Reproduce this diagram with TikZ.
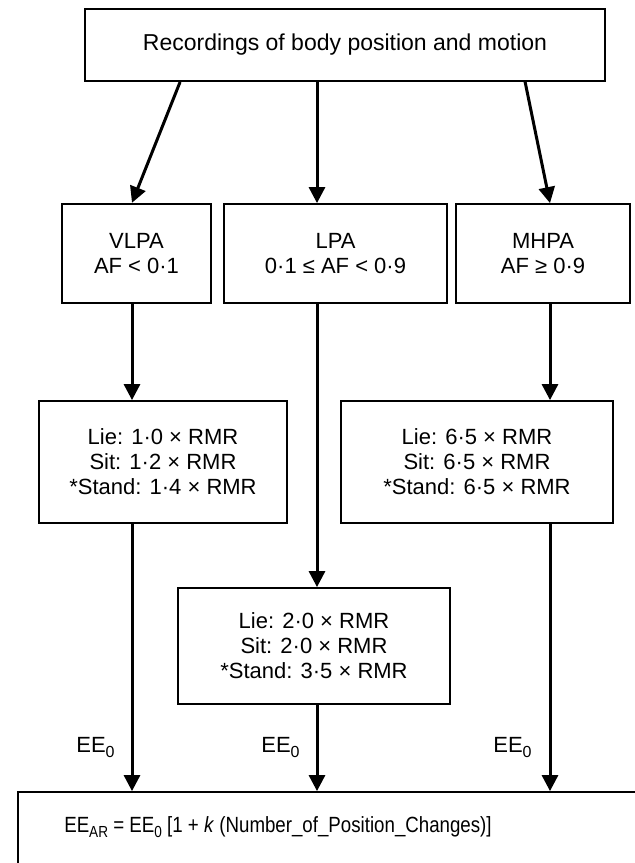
\documentclass[tikz,border=0pt]{standalone}
\usepackage{fontspec}
\usepackage{graphicx}
\setmainfont{Liberation Sans}
\usetikzlibrary{arrows.meta,calc}
\newcommand\sbs[1]{\raisebox{-0.45ex}{\fontsize{8}{8}\selectfont #1}}
\begin{document}
\begin{tikzpicture}[x=0.5pt,y=-0.5pt,
  box/.style={draw,line width=0.9pt,inner sep=0pt,align=center,font=\fontsize{11}{12.5}\selectfont},
  arr/.style={line width=1.5pt,-{Triangle[length=8pt,width=8pt]}},
  lab/.style={inner sep=0pt,font=\fontsize{11}{12}\selectfont}]
\useasboundingbox (0,0) rectangle (635,863);
\fill[white] (0,0) rectangle (635,863);
\coordinate (c1) at (132,0);
\coordinate (c2) at (317,0);
\coordinate (c3) at (550,0);
\node[box,minimum width=260pt,minimum height=36pt,font=\fontsize{11.5}{13}\selectfont] (top) at (345,45) {Recordings of body position and motion};
\node[box,line width=1.2pt,minimum width=74.5pt,minimum height=49.5pt] (vlpa) at (136.5,253.5) {VLPA\\AF < 0·1};
\node[box,minimum width=111.5pt,minimum height=49.5pt] (lpa) at (335.5,253.5) {LPA\\0·1 ≤ AF < 0·9};
\node[box,minimum width=87pt,minimum height=49.5pt] (mhpa) at (543,253.5) {MHPA\\AF ≥ 0·9};
\node[box,minimum width=124pt,minimum height=61pt] (vlparates) at (163,462) {Lie: 1·0 × RMR\\Sit: 1·2 × RMR\\*Stand: 1·4 × RMR};
\node[box,minimum width=136pt,minimum height=61pt] (mhparates) at (477,462) {Lie: 6·5 × RMR\\Sit: 6·5 × RMR\\*Stand: 6·5 × RMR};
\node[box,minimum width=136pt,minimum height=58pt] (lparates) at (314,646) {Lie: 2·0 × RMR\\Sit: 2·0 × RMR\\*Stand: 3·5 × RMR};
\begin{scope}
\clip (0,0) rectangle (635,863);
\node[box,minimum width=321pt,minimum height=54pt] (ee) at (339,846) {};
\end{scope}
\node[lab] (eq) at (278,827) {\scalebox{0.85}[1]{EE\sbs{AR} = EE\sbs{0} [1 + \textit{k} (Number\_of\_Position\_Changes)]}};
\draw[arr] ($(top.south west)+(96,0)$) -- (vlpa.north -| c1);
\draw[arr] (top.south -| c2) -- (lpa.north -| c2);
\draw[arr] ($(top.south west)+(441,0)$) -- (mhpa.north -| c3);
\draw[arr] (vlpa.south -| c1) -- (vlparates.north -| c1);
\draw[arr] (lpa.south -| c2) -- (lparates.north -| c2);
\draw[arr] (mhpa.south -| c3) -- (mhparates.north -| c3);
\draw[arr] (vlparates.south -| c1) -- (ee.north -| c1);
\draw[arr] (lparates.south -| c2) -- (ee.north -| c2);
\draw[arr] (mhparates.south -| c3) -- (ee.north -| c3);
\node[lab,anchor=base east] (l1) at (115,752) {EE\sbs{0}};
\node[lab,anchor=base east] (l2) at (300,752) {EE\sbs{0}};
\node[lab,anchor=base east] (l3) at (532,752) {EE\sbs{0}};
\end{tikzpicture}
\end{document}
